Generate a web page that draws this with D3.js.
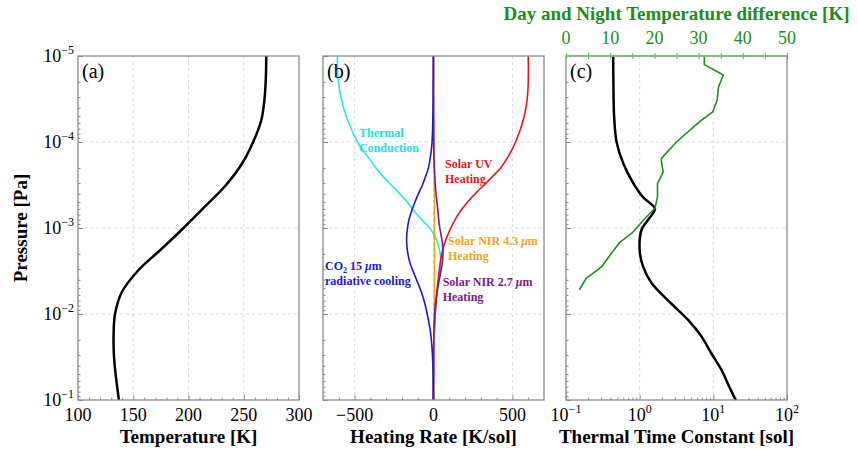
<!DOCTYPE html>
<html>
<head>
<meta charset="utf-8">
<script src="https://cdn.jsdelivr.net/npm/d3@7"></script>
<style>
  body { margin: 0; background: #fff; }
  svg { font-family: "Liberation Serif", "Times New Roman", serif; }
</style>
</head>
<body>
<div id="chart"></div>
<script>
let width = 858;
let height = 450;
let plotTop = 56;
let plotBottom = 400;
let spineColor = "#8a8a8a";
let gridColor = "#d0d0d0";

////////////////////////////////
//   Data
////////////////////////////////
// (a) temperature profile
let tempPressure = [1e-5, 1.78e-5, 3.16e-5, 5.62e-5, 1e-4, 1.78e-4, 3.16e-4, 5.62e-4, 1e-3,
  1.78e-3, 3.16e-3, 5.62e-3, 1e-2, 1.78e-2, 3.16e-2, 5.62e-2, 1e-1];
let temperature = [270.4, 270.0, 268.8, 265.8, 258.5, 248.5, 234, 215, 195.5,
  175, 154, 139.5, 133.5, 132.2, 132.6, 134.5, 137];

// (b) heating rates on a shared pressure grid
let levels = [1e-5, 1.58e-5, 2.51e-5, 3.98e-5, 6.31e-5, 1e-4, 1.26e-4, 1.58e-4, 2.0e-4, 2.51e-4,
  3.16e-4, 3.98e-4, 5.01e-4, 6.31e-4, 7.94e-4, 1e-3, 1.26e-3, 1.58e-3, 2.0e-3, 2.51e-3,
  3.16e-3, 3.98e-3, 5.01e-3, 6.31e-3, 7.94e-3, 1e-2, 1.58e-2, 2.51e-2, 3.98e-2, 6.31e-2, 1e-1];
let conduction = [-608, -607, -595, -570, -532, -482, -445, -405, -365, -320,
  -268, -215, -165, -125, -75, -25, 11, 30, 42, 46,
  41, 33, 26, 19, 14, 10, 5, 2, 1, 0, 0];
let co2Cooling = [-1, -1, -2, -3, -5, -9, -14, -22, -32, -50,
  -70, -95, -118, -138, -155, -165, -170, -169, -162, -150,
  -130, -108, -86, -67, -52, -40, -20, -9, -4, -2, -1];
let solarUV = [600, 601, 598, 586, 560, 520, 494, 463, 425, 375,
  320, 265, 215, 172, 138, 110, 86, 67, 52, 43,
  36, 30, 24, 19, 15, 11, 6, 3, 2, 1, 0];
let nir43 = [0, 0, 1, 2, 4, 5, 6, 6, 6, 6,
  6, 6, 6, 6, 6, 6, 6, 6, 6, 6,
  6, 6, 6, 6, 6, 6, 5, 4, 3, 2, 1];
let nir27 = [0, 0, 0, 0, 0, 1, 2, 3, 5, 8,
  11, 16, 22, 28, 33, 40, 50, 58, 60, 56,
  47, 37, 27, 18, 11, 7, 3, 1, 0, 0, 0];

// (c) thermal time constant
let tauPressure = [1e-5, 2e-5, 5e-5, 1e-4, 1.78e-4, 3e-4, 4.37e-4, 5.9e-4, 6.76e-4, 8.5e-4,
  1.05e-3, 1.82e-3, 2.8e-3, 4.37e-3, 7.6e-3, 1.17e-2, 1.82e-2, 2.88e-2, 4.47e-2, 6.9e-2, 1e-1];
let tauSol = [0.437, 0.44, 0.45, 0.486, 0.60, 0.817, 1.11, 1.61, 1.51, 1.24,
  1.06, 1.0, 1.11, 1.45, 2.7, 4.54, 6.89, 9.42, 12.9, 16.3, 20.1];

// (c) day-night temperature difference (top axis)
let diffPressure = [1e-5, 1.26e-5, 1.66e-5, 2.29e-5, 3.24e-5, 4.47e-5, 5.75e-5, 1e-4, 1.55e-4, 1.74e-4,
  2.24e-4, 3.02e-4, 4.37e-4, 5.89e-4, 8.13e-4, 1.15e-3, 1.48e-3, 1.95e-3, 2.82e-3, 3.89e-3, 5.25e-3];
let diffK = [31.3, 31.3, 35.6, 34.5, 34.2, 33.2, 30.3, 25.0, 21.6, 21.6,
  22.0, 20.7, 20.7, 20.1, 17.5, 14.9, 12.1, 10.3, 8.1, 4.5, 3.0];

// ticks
let yTicks = [1e-5, 1e-4, 1e-3, 1e-2, 1e-1];
let xTicksA = [100, 150, 200, 250, 300];
let xTicksB = [-500, 0, 500];
let xTicksC = [0.1, 1, 10, 100];
let topTicks = [0, 10, 20, 30, 40, 50];

////////////////////////////////
//   Scales
////////////////////////////////
let svg = d3.select("#chart").append("svg")
  .attr("width", width)
  .attr("height", height);

let y = d3.scaleLog().domain([1e-5, 1e-1]).range([plotTop, plotBottom]);
let xA = d3.scaleLinear().domain([100, 300]).range([78, 299]);
let xB = d3.scaleLinear().domain([-700, 700]).range([323, 544]);
let xC = d3.scaleLog().domain([0.1, 100]).range([566, 787]);
let xTop = d3.scaleLinear().domain([0, 50]).range([566, 787]);

let smooth = d3.curveCatmullRom.alpha(0.5);

function minorLog(lo, hi) {
  let out = [];
  for (let e = lo; e < hi; e++) {
    for (let m = 2; m <= 9; m++) out.push(m * Math.pow(10, e));
  }
  return out;
}
let yMinor = minorLog(-5, -1);

function expLabel(sel, v) {
  let e = Math.round(Math.log10(v));
  sel.append("tspan").text("10");
  sel.append("tspan").attr("dy", -8).attr("font-size", 12).text(e < 0 ? "\u2212" + (-e) : e);
}

////////////////////////////////
//   Panel frame, grid, ticks
////////////////////////////////
function drawFrame(x, xMajor, xMinor, xIsLog) {
  let [x0, x1] = x.range();

  // dashed grid
  let g = svg.append("g");
  g.selectAll(".vg").data(xMajor.filter(v => x(v) > x0 + 1 && x(v) < x1 - 1)).enter()
    .append("line")
    .attr("x1", d => x(d)).attr("x2", d => x(d))
    .attr("y1", plotTop).attr("y2", plotBottom)
    .attr("stroke", gridColor).attr("stroke-width", 0.8).attr("stroke-dasharray", "3,3");
  g.selectAll(".hg").data(yTicks.slice(1, -1)).enter()
    .append("line")
    .attr("x1", x0).attr("x2", x1)
    .attr("y1", d => y(d)).attr("y2", d => y(d))
    .attr("stroke", gridColor).attr("stroke-width", 0.8).attr("stroke-dasharray", "3,3");

  // y ticks (inward)
  let gy = svg.append("g").attr("transform", "translate(" + x0 + ",0)")
    .call(d3.axisLeft(y).tickValues(yTicks).tickSize(-5).tickSizeOuter(0).tickFormat(""));
  gy.select(".domain").remove();
  gy.selectAll("line").attr("stroke", spineColor);
  let gym = svg.append("g").attr("transform", "translate(" + x0 + ",0)")
    .call(d3.axisLeft(y).tickValues(yMinor).tickSize(-2.5).tickSizeOuter(0).tickFormat(""));
  gym.select(".domain").remove();
  gym.selectAll("line").attr("stroke", spineColor);

  // x ticks (inward)
  let gx = svg.append("g").attr("transform", "translate(0," + plotBottom + ")")
    .call(d3.axisBottom(x).tickValues(xMajor).tickSize(-5).tickSizeOuter(0).tickFormat(""));
  gx.select(".domain").remove();
  gx.selectAll("line").attr("stroke", spineColor);
  let gxm = svg.append("g").attr("transform", "translate(0," + plotBottom + ")")
    .call(d3.axisBottom(x).tickValues(xMinor).tickSize(-2.5).tickSizeOuter(0).tickFormat(""));
  gxm.select(".domain").remove();
  gxm.selectAll("line").attr("stroke", spineColor);

  // x tick labels
  xMajor.forEach(function(v) {
    let t = svg.append("text")
      .attr("x", x(v)).attr("y", 421)
      .attr("text-anchor", "middle")
      .attr("font-size", 18);
    if (xIsLog) { expLabel(t, v); }
    else { t.text(v < 0 ? "\u2212" + (-v) : v); }
  });
}

function drawSpines(x) {
  let [x0, x1] = x.range();
  svg.append("rect")
    .attr("x", x0).attr("y", plotTop)
    .attr("width", x1 - x0).attr("height", plotBottom - plotTop)
    .attr("fill", "none")
    .attr("stroke", spineColor)
    .attr("stroke-width", 1.3);
}

function drawCurve(x, ps, vs, color, w, curve) {
  let line = d3.line()
    .x(d => x(d[1]))
    .y(d => y(d[0]))
    .curve(curve);
  svg.append("path")
    .datum(d3.zip(ps, vs))
    .attr("d", line)
    .attr("fill", "none")
    .attr("stroke", color)
    .attr("stroke-width", w)
    .attr("stroke-linejoin", "round");
}

function panelLetter(x, s) {
  svg.append("text")
    .attr("x", x.range()[0] + 4).attr("y", 78)
    .attr("font-size", 20)
    .text(s);
}

function axisTitle(x, s) {
  let [x0, x1] = x.range();
  svg.append("text")
    .attr("x", (x0 + x1) / 2).attr("y", 443)
    .attr("text-anchor", "middle")
    .attr("font-size", 19)
    .attr("font-weight", "bold")
    .text(s);
}

///////////////////////////
//   (a) Temperature
///////////////////////////
drawFrame(xA, xTicksA, d3.range(110, 300, 10).filter(v => v % 50 != 0), false);
drawCurve(xA, tempPressure, temperature, "#000", 2.5, smooth);
drawSpines(xA);
panelLetter(xA, "(a)");
axisTitle(xA, "Temperature [K]");

yTicks.forEach(function(v) {
  let t = svg.append("text")
    .attr("x", 74).attr("y", y(v) + 6)
    .attr("text-anchor", "end")
    .attr("font-size", 18);
  expLabel(t, v);
});

svg.append("text")
  .attr("transform", "translate(27," + ((plotTop + plotBottom) / 2) + ") rotate(-90)")
  .attr("text-anchor", "middle")
  .attr("font-size", 19)
  .attr("font-weight", "bold")
  .text("Pressure [Pa]");

///////////////////////////
//   (b) Heating rates
///////////////////////////
drawFrame(xB, xTicksB, d3.range(-600, 700, 100).filter(v => v % 500 != 0), false);
drawCurve(xB, levels, conduction, "#22eaea", 1.6, smooth);
drawCurve(xB, levels, solarUV, "#e8161b", 1.6, smooth);
drawCurve(xB, levels, nir43, "#f5a31a", 1.6, smooth);
drawCurve(xB, levels, nir27, "#7a1a86", 1.6, smooth);
drawCurve(xB, levels, co2Cooling, "#1a1ad0", 1.6, smooth);
drawSpines(xB);
panelLetter(xB, "(b)");
axisTitle(xB, "Heating Rate [K/sol]");

function note(xv, pv, color, lines) {
  let t = svg.append("text")
    .attr("x", xB(xv)).attr("y", y(pv))
    .attr("font-size", 12)
    .attr("font-weight", "bold")
    .attr("fill", color);
  lines.forEach(function(parts, i) {
    parts.forEach(function(p, j) {
      let s = t.append("tspan").text(p.t);
      if (j == 0) { s.attr("x", xB(xv)).attr("dy", i == 0 ? 0 : 15); }
      if (p.it) s.attr("font-style", "italic");
      if (p.sub) s.attr("font-size", 8).attr("dy", 3);
      if (p.back) s.attr("dy", -3);
    });
  });
}

note(-472, 8.75e-5, "#22e0e0", [[{t: "Thermal"}], [{t: "Conduction"}]]);
note(73, 2.0e-4, "#e8161b", [[{t: "Solar UV"}], [{t: "Heating"}]]);
note(92, 1.58e-3, "#f5a31a", [[{t: "Solar NIR 4.3 "}, {t: "\u03bc", it: true}, {t: "m"}], [{t: "Heating"}]]);
note(-687, 3.04e-3, "#1a1ad0", [[{t: "CO"}, {t: "2", sub: true}, {t: " 15 ", back: true}, {t: "\u03bc", it: true}, {t: "m"}], [{t: "radiative cooling"}]]);
note(58, 4.72e-3, "#7a1a86", [[{t: "Solar NIR 2.7 "}, {t: "\u03bc", it: true}, {t: "m"}], [{t: "Heating"}]]);

///////////////////////////
//   (c) Time constant
///////////////////////////
drawFrame(xC, xTicksC, minorLog(-1, 2), true);
drawCurve(xC, tauPressure, tauSol, "#000", 2.5, smooth);
drawCurve(xTop, diffPressure, diffK, "#228b22", 1.6, d3.curveLinear);
drawSpines(xC);
panelLetter(xC, "(c)");
axisTitle(xC, "Thermal Time Constant [sol]");

// top green axis
let topG = svg.append("g").attr("transform", "translate(0," + plotTop + ")")
  .call(d3.axisTop(xTop).tickValues(d3.range(0, 55, 5)).tickSize(3).tickSizeOuter(0).tickFormat(""));
topG.select(".domain").remove();
topG.selectAll("line").attr("stroke", "#5aa85a").attr("y2", -3).attr("y1", 3);
svg.append("line")
  .attr("x1", xTop(0)).attr("x2", xTop(50))
  .attr("y1", plotTop).attr("y2", plotTop)
  .attr("stroke", "#7cbf7c").attr("stroke-width", 1.5);
topTicks.forEach(function(v) {
  svg.append("text")
    .attr("x", xTop(v)).attr("y", 44)
    .attr("text-anchor", "middle")
    .attr("font-size", 18)
    .attr("fill", "#228b22")
    .text(v);
});
svg.append("text")
  .attr("x", (xTop(0) + xTop(50)) / 2).attr("y", 20)
  .attr("text-anchor", "middle")
  .attr("font-size", 19)
  .attr("font-weight", "bold")
  .attr("fill", "#228b22")
  .text("Day and Night Temperature difference [K]");
</script>
</body>
</html>
